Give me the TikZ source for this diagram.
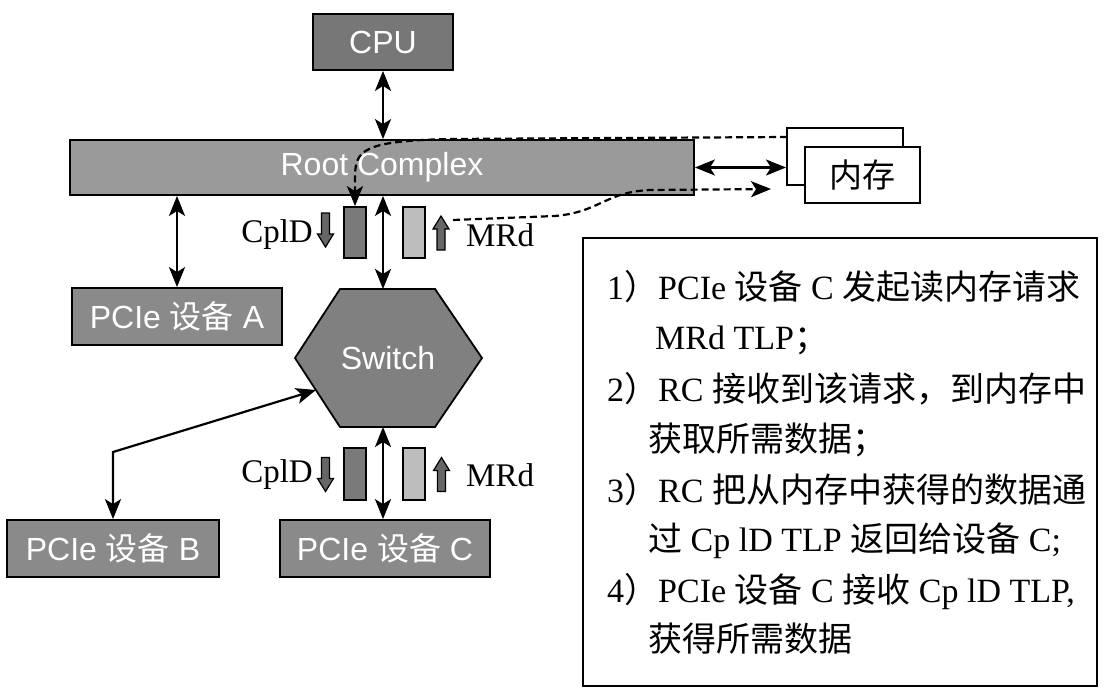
\documentclass[tikz,border=0pt]{standalone}
\usepackage{fontspec}
\setmainfont{Liberation Serif}
\setsansfont{Liberation Sans}
\newfontfamily\cjk{Noto Sans CJK SC}
\usetikzlibrary{arrows.meta}
\definecolor{cpuc}{HTML}{777777}
\definecolor{rcc}{HTML}{9A9A9A}
\definecolor{devc}{HTML}{8A8A8A}
\definecolor{swc}{HTML}{808080}
\definecolor{rdark}{HTML}{7A7A7A}
\definecolor{rlight}{HTML}{BDBDBD}
\definecolor{arrc}{HTML}{666666}
\tikzset{
  gbox/.style={draw, line width=1.8pt, inner sep=0pt, text=white, font=\sffamily\fontsize{32}{32}\selectfont},
  wbox/.style={draw, line width=2pt, fill=white, inner sep=0pt, font=\fontsize{33}{33}\selectfont},
  tip/.style={Stealth[length=20pt,width=16pt,inset=5pt]},
  dbl/.style={{Stealth[length=20pt,width=16pt,inset=5pt]}-{Stealth[length=20pt,width=16pt,inset=5pt]}, line width=2.2pt},
  dsh/.style={dash pattern=on 7pt off 4pt, line width=2.2pt, -{Stealth[length=20pt,width=16pt,inset=5pt]}},
  pkt/.style={draw, line width=1.8pt, inner sep=0pt, minimum width=22pt, minimum height=51pt},
  lbl/.style={inner sep=0pt, font=\fontsize{33}{33}\selectfont},
  txt/.style={inner sep=0pt, anchor=base west, font=\fontsize{34}{34}\selectfont},
  downarr/.pic={\draw[line width=1.2pt, fill=arrc] (-4,-17) -- (4,-17) -- (4,4) -- (8,4) -- (0,17) -- (-8,4) -- (-4,4) -- cycle;},
  uparr/.pic={\draw[line width=1.2pt, fill=arrc] (-4,17) -- (4,17) -- (4,-4) -- (8,-4) -- (0,-17) -- (-8,-4) -- (-4,-4) -- cycle;}
}
\begin{document}
\begin{tikzpicture}[x=1pt,y=-1pt]
\useasboundingbox (0,0) rectangle (1115,691);
% boxes
\node[gbox, fill=cpuc, minimum width=140pt, minimum height=56pt] (cpu) at (383,42) {CPU};
\node[gbox, fill=rcc, minimum width=624pt, minimum height=55pt] (rc) at (382,167.5) {Root Complex};
\node[wbox, minimum width=116pt, minimum height=57pt] (memb) at (845,156.5) {};
\node[wbox, minimum width=115pt, minimum height=56pt] (memf) at (862.5,175) {\cjk 内存};
\node[gbox, fill=devc, minimum width=210pt, minimum height=57pt] (devA) at (177,316.5) {PCIe {\cjk 设备} A};
\node[gbox, fill=devc, minimum width=212pt, minimum height=57pt] (devB) at (113,548.5) {PCIe {\cjk 设备} B};
\node[gbox, fill=devc, minimum width=210pt, minimum height=57pt] (devC) at (385,548.5) {PCIe {\cjk 设备} C};
% switch hexagon
\draw[line width=1.8pt, fill=swc] (340,289) -- (435,289) -- (482,358) -- (435,427) -- (340,427) -- (295,358) -- cycle;
\node[inner sep=0pt, text=white, font=\sffamily\fontsize{32}{32}\selectfont] (sw) at (388,358) {Switch};
\coordinate (swt) at (383,289);
\coordinate (swb) at (383,427);
\coordinate (swl) at (316,390);
\coordinate (bend) at (113,452);
% packets upper
\node[pkt, fill=rdark] (pu1) at (355,232.5) {};
\node[pkt, fill=rlight] (pu2) at (414,232.5) {};
\pic at (325.5,230) {downarr};
\pic at (441,233) {uparr};
\node[lbl, anchor=east] (cu) at (313,235) {CplD};
\node[lbl, anchor=west] (mu) at (466,235) {MRd};
% packets lower
\node[pkt, fill=rdark, minimum height=52pt] (pl1) at (355,474) {};
\node[pkt, fill=rlight, minimum height=52pt] (pl2) at (414,474) {};
\pic at (325.5,474.5) {downarr};
\pic at (441.5,474.5) {uparr};
\node[lbl, anchor=east] (cl) at (313,475) {CplD};
\node[lbl, anchor=west] (ml) at (466,475) {MRd};
% connectors
\draw[dbl] (cpu.south) -- (cpu.south |- rc.north);
\draw[dbl] (rc.south -| swt) -- (swt);
\draw[dbl] (rc.south -| devA.north) -- (devA.north);
\draw[dbl] (rc.east) -- (rc.east -| memb.west);
\draw[dbl] (swb) -- (swb |- devC.north);
\draw[dbl] (swl) -- (bend) -- (bend |- devB.north);
% dashed flows
\coordinate (m1) at (787,137);
\draw[dsh] (m1) -- (450,139) .. controls (362,141) and (355,150) .. (355,178) -- (pu1.north);
\coordinate (d0) at (453,220);
\coordinate (d1) at (771,189);
\draw[dsh] (d0) -- (555,216) .. controls (600,212) and (605,192) .. (650,190) -- (d1);
% text box
\node[draw, line width=2pt, minimum width=514pt, minimum height=448pt, inner sep=0pt] (tb) at (840,462) {};
\node[txt] (t1) at (607,299) {1{\cjk ）}PCIe {\cjk 设备} C {\cjk 发起读内存请求}};
\node[txt] (t2) at (655,349) {MRd TLP{\cjk ；}};
\node[txt] (t3) at (607,401) {2{\cjk ）}RC {\cjk 接收到该请求，到内存中}};
\node[txt] (t4) at (648,451) {\cjk 获取所需数据；};
\node[txt] (t5) at (607,502) {3{\cjk ）}RC {\cjk 把从内存中获得的数据通}};
\node[txt] (t6) at (648,551) {{\cjk 过} Cp lD TLP {\cjk 返回给设备} C;};
\node[txt] (t7) at (607,602) {4{\cjk ）}PCIe {\cjk 设备} C {\cjk 接收} Cp lD TLP,};
\node[txt] (t8) at (648,651) {\cjk 获得所需数据};
\end{tikzpicture}
\end{document}
